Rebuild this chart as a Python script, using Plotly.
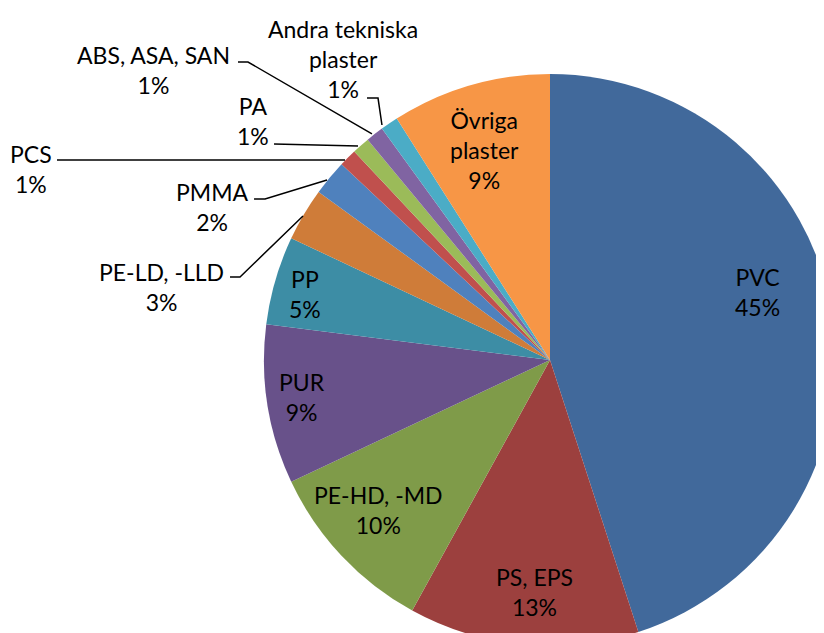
import plotly.graph_objects as go

# Data: share of plastic types (%)
labels = ["PVC", "PS, EPS", "PE-HD, -MD", "PUR", "PP", "PE-LD, -LLD", "PMMA",
          "PCS", "PA", "ABS, ASA, SAN", "Andra tekniska plaster", "Övriga plaster"]
values = [45, 13, 10, 9, 5, 3, 2, 1, 1, 1, 1, 9]
colors = ["#41699B", "#9C403E", "#7F9B49", "#68518A", "#3D8DA5", "#CF7C39",
          "#4F81BD", "#C0504D", "#9BBB59", "#8064A2", "#4BACC6", "#F79646"]

# how the longer labels wrap in the chart
label_lines = {
    "Andra tekniska plaster": "Andra tekniska<br>plaster",
    "Övriga plaster": "Övriga<br>plaster",
}

# figure is a bit larger than the window, the pie is cut at right/bottom
W, H = 840, 650
OFF = 8  # page margin of the html body
CX, CY, R = 550, 360, 286  # pie centre / radius on screen


def px(x):
    return (x - OFF) / W


def py(y):
    return 1 - (y - OFF) / H


fig = go.Figure()
fig.add_trace(go.Pie(
    labels=labels,
    values=values,
    sort=False,
    direction="clockwise",
    rotation=0,
    textinfo="none",
    hoverinfo="label+percent",
    marker=dict(colors=colors, line=dict(width=0)),
    showlegend=False,
    domain=dict(x=[px(CX - R), px(CX + R)], y=[py(CY + R), py(CY - R)]),
))

# label centre positions in screen pixels
label_pos = {
    "PVC": (757, 292),
    "PS, EPS": (534, 592),
    "PE-HD, -MD": (378, 510),
    "PUR": (302, 397),
    "PP": (305, 294),
    "PE-LD, -LLD": (161, 287),
    "PMMA": (212, 207),
    "PCS": (31, 169),
    "PA": (253, 121),
    "ABS, ASA, SAN": (153, 70),
    "Andra tekniska plaster": (343, 59),
    "Övriga plaster": (484, 150),
}

font = dict(family="Lato, Open Sans, sans-serif", size=23, color="#000000")
for lab, val in zip(labels, values):
    x, y = label_pos[lab]
    txt = label_lines.get(lab, lab) + "<br>" + f"{val}%"
    fig.add_annotation(x=px(x), y=py(y), xref="paper", yref="paper",
                       text=txt, showarrow=False, font=font,
                       xanchor="center", yanchor="middle", align="center")

# leader lines for the small slices
leaders = [
    [(238, 62), (248, 62), (372, 134)],
    [(367, 98), (378, 98), (382, 125)],
    [(274, 144), (358, 146)],
    [(57, 160), (345, 160)],
    [(254, 199), (265, 199), (327, 180)],
    [(230, 277), (240, 277), (303, 216)],
]
for pts in leaders:
    path = "M " + " L ".join(f"{px(a):.4f},{py(b):.4f}" for a, b in pts)
    fig.add_shape(type="path", path=path, xref="paper", yref="paper",
                  line=dict(color="black", width=1.5))

fig.update_layout(
    width=W, height=H,
    margin=dict(l=0, r=0, t=0, b=0),
    paper_bgcolor="white",
    plot_bgcolor="white",
    xaxis=dict(visible=False),
    yaxis=dict(visible=False),
)

fig.write_html("out.html")
